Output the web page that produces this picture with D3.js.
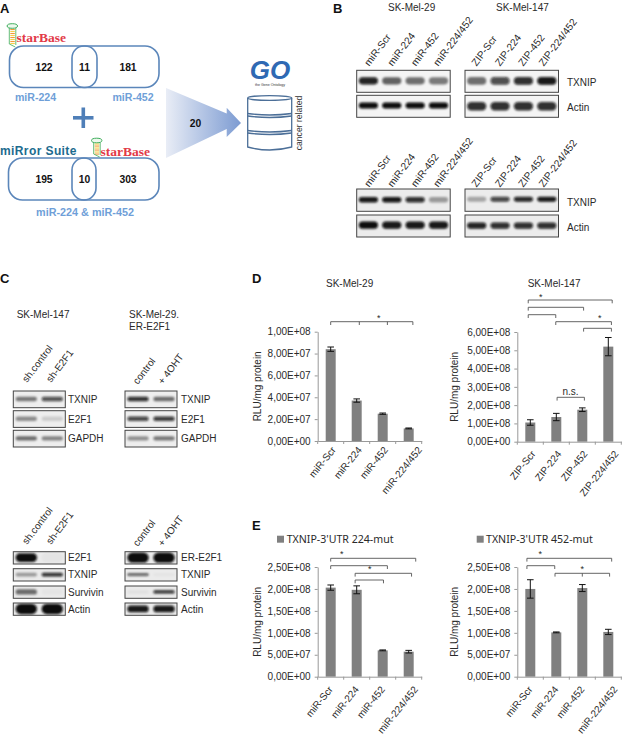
<!DOCTYPE html>
<html><head><meta charset="utf-8">
<script src="https://cdnjs.cloudflare.com/ajax/libs/d3/7.8.5/d3.min.js"></script>
<style>html,body{margin:0;padding:0;background:#fff}svg{display:block}text{font-family:"Liberation Sans",Arial,sans-serif;fill:#2a2a2a}</style>
</head><body><div id="c"></div>
<script>
// ---------- DATA ----------
const mirCategories = ["miR-Scr","miR-224","miR-452","miR-224/452"];
const zipCategories = ["ZIP-Scr","ZIP-224","ZIP-452","ZIP-224/452"];

const d29Values = [8.4e7,3.7e7,2.5e7,1.15e7];
const d29Errors = [0.2e7,0.15e7,0.06e7,0.04e7];
const d29Ticks  = [0,2e7,4e7,6e7,8e7,1e8];

const d147Values = [1.05e8,1.35e8,1.75e8,5.2e8];
const d147Errors = [0.15e8,0.2e8,0.1e8,0.5e8];
const d147Ticks  = [0,1e8,2e8,3e8,4e8,5e8,6e8];

const e224Values = [2.03e8,1.98e8,0.6e8,0.57e8];
const e224Errors = [0.06e8,0.09e8,0.01e8,0.03e8];
const e452Values = [2.0e8,1.01e8,2.02e8,1.02e8];
const e452Errors = [0.21e8,0.01e8,0.08e8,0.06e8];
const eTicks     = [0,5e7,1e8,1.5e8,2e8,2.5e8];

const vennTop = ["122","11","181"];
const vennBottom = ["195","10","303"];

const blotLanes4mir = mirCategories;
const blotLanes4zip = zipCategories;
const shLanes = ["sh.control","sh-E2F1"];
const ohtLanes = ["control","+ 4OHT"];

// band darkness, read by eye
const bTopMirTxnip  = [.9,.6,.55,.5];
const bTopMirActin  = [1,1,1,1];
const bTopZipTxnip  = [.55,.72,.85,.95];
const bTopZipActin  = [.85,.85,.85,.85];
const bLowMirTxnip  = [.95,.95,.85,.35];
const bLowMirActin  = [1,.95,.95,.95];
const bLowZipTxnip  = [.3,.75,.88,.95];
const bLowZipActin  = [.9,.85,.85,.85];
const cTopShTxnip   = [.5,.7];
const cTopShE2f1    = [.42,.14];
const cTopShGapdh   = [.55,.45];
const cTopOhtTxnip  = [.85,.55];
const cTopOhtE2f1   = [.75,.8];
const cTopOhtGapdh  = [.4,.5];
const cLowShE2f1    = [1,.03];
const cLowShTxnip   = [.35,.85];
const cLowShSurv    = [.55,.03];
const cLowShActin   = [1,1];
const cLowOhtE2f1   = [1,1];
const cLowOhtTxnip  = [.65,.03];
const cLowOhtSurv   = [.05,.85];
const cLowOhtActin  = [.95,.95];

// ---------- SETUP ----------
const W=622,H=735;
const svg=d3.select("#c").append("svg").attr("width",W).attr("height",H).attr("viewBox",`0 0 ${W} ${H}`);
svg.append("rect").attr("width",W).attr("height",H).attr("fill","#fff");
const defs=svg.append("defs");
defs.append("filter").attr("id","blur").attr("x","-30%").attr("y","-100%").attr("width","160%").attr("height","300%")
  .append("feGaussianBlur").attr("stdDeviation",0.9);
const grad=defs.append("linearGradient").attr("id","arrowGrad");
grad.append("stop").attr("offset","0").attr("stop-color","#e9edf6");
grad.append("stop").attr("offset","1").attr("stop-color","#7c9bd2");

function T(g,x,y,s,o={}){
  const t=g.append("text").attr("x",x).attr("y",y).attr("dy",".35em").text(s)
    .attr("font-size",o.size||10).attr("text-anchor",o.anchor||"start");
  if(o.weight)t.attr("font-weight",o.weight);
  if(o.fill)t.style("fill",o.fill);
  if(o.family)t.style("font-family",o.family);
  if(o.style)t.attr("font-style",o.style);
  if(o.ls)t.attr("letter-spacing",o.ls);
  if(o.rot!==undefined)t.attr("transform",`rotate(${o.rot} ${x} ${y})`);
  return t;
}
const letters=[["A",0,8],["B",333,8],["C",0,278],["D",252,278],["E",252,525]];
letters.forEach(l=>T(svg,l[1],l[2],l[0],{size:13,weight:"bold",fill:"#111"}));

// ---------- PANEL A ----------
const A=svg.append("g");
const blue="#5b86ba",lblue="#6f9fd8";
function venn(x0,x1,y0,y1,ix0,ix1,vals,cy){
  A.append("rect").attr("x",x0).attr("y",y0).attr("width",x1-x0).attr("height",y1-y0).attr("rx",14)
    .attr("fill","none").attr("stroke",blue).attr("stroke-width",1.6);
  A.append("rect").attr("x",ix0).attr("y",y0).attr("width",ix1-ix0).attr("height",y1-y0).attr("rx",12)
    .attr("fill","none").attr("stroke",blue).attr("stroke-width",1.6);
  [44,84.5,128].forEach((x,i)=>T(A,x,cy,vals[i],{size:10.3,weight:"bold",anchor:"middle",fill:"#111"}));
}
venn(9.5,159,46,87.5,72,97,vennTop,67);
venn(8.5,159,158,200,72,96,vennBottom,179.5);
T(A,35.5,97,"miR-224",{size:10.6,weight:"bold",anchor:"middle",fill:lblue});
T(A,133,97,"miR-452",{size:10.6,weight:"bold",anchor:"middle",fill:lblue});
T(A,85,212,"miR-224 & miR-452",{size:10.8,weight:"bold",anchor:"middle",fill:lblue});
A.append("rect").attr("x",73).attr("y",116).attr("width",20.5).attr("height",3.6).attr("fill","#4f7fb8");
A.append("rect").attr("x",81.5).attr("y",107.5).attr("width",3.6).attr("height",20.5).attr("fill","#4f7fb8");
A.append("path").attr("d","M166,88L226.7,113.5L226.7,107.7L241,123L226.7,137L226.7,129L166,158Z").attr("fill","url(#arrowGrad)");
T(A,195.5,123,"20",{size:10.3,weight:"bold",anchor:"middle",fill:"#111"});
function star(x,y){T(A,x,y,"starBase",{size:13.5,weight:"bold",fill:"#e23a48",family:"'Liberation Serif',serif"});}
star(16.5,37);star(100.5,151);
function hairpin(x,top,bot){
  for(let y=top+4;y<bot-2;y+=2){A.append("rect").attr("x",x+1).attr("y",y).attr("width",4.5).attr("height",1.1).attr("fill",y%4<2?"#f29a3a":"#f6d04a");}
  A.append("path").attr("d",`M${x},${top+3}V${bot-3}L${x+6},${bot}M${x+6.5},${top+3}V${bot-2}`).attr("fill","none").attr("stroke","#55b56a").attr("stroke-width",.9);
  A.append("ellipse").attr("cx",x+3).attr("cy",top+1).attr("rx",5.2).attr("ry",2.3).attr("fill","#eef8ee").attr("stroke","#3fae5c").attr("stroke-width",1);
}
hairpin(9.3,25,47);hairpin(93.7,139.5,157);
T(A,0,151,"miRror Suite",{size:12,weight:"bold",fill:"#1d6b8e",ls:.4});
T(A,270,70,"GO",{size:26,weight:"bold",style:"italic",anchor:"middle",fill:"#2f69b3"});
T(A,270,84.5,"the Gene Ontology",{size:3.6,anchor:"middle",fill:"#333"});
const cyl=A.append("g").attr("fill","none").attr("stroke","#4c6f98").attr("stroke-width",1.3);
cyl.append("path").attr("d","M247.7,98V147Q269.7,153 291.7,147V98");
cyl.append("ellipse").attr("cx",269.7).attr("cy",98).attr("rx",22).attr("ry",2.4);
[114.5,117,131.5,134].forEach(y=>cyl.append("path").attr("d",`M247.7,${y-1}Q269.7,${y+2} 291.7,${y-1}`));
T(A,299,123,"cancer related",{size:8.6,anchor:"middle",rot:-90,fill:"#333"});

// ---------- BLOTS ----------
function blot(x,y,w,h,levels,o={}){
  const lanes=o.lanes||levels.map((_,i)=>i);
  const sc=d3.scaleBand().domain(lanes).range([0,w]);
  const s=svg.append("svg").attr("x",x).attr("y",y).attr("width",w).attr("height",h);
  s.append("rect").attr("width",w).attr("height",h).attr("fill",o.bg||"#f4f4f4");
  const bh=h*(o.thick||.32);
  s.append("g").attr("filter","url(#blur)").selectAll("rect").data(levels).join("rect")
    .attr("x",(d,i)=>sc(lanes[i])+sc.bandwidth()*.09).attr("width",sc.bandwidth()*.82)
    .attr("y",h*(o.cy||.48)-bh/2).attr("height",bh).attr("rx",bh/2)
    .attr("fill","#0a0a0a").attr("opacity",d=>d);
  svg.append("rect").attr("x",x).attr("y",y).attr("width",w).attr("height",h).attr("fill","none").attr("stroke","#444").attr("stroke-width",1);
}
function laneLabels(x,w,base,cats,off,fs){
  const sc=d3.scaleBand().domain(cats).range([x,x+w]);
  cats.forEach((c,i)=>T(svg,sc(c)+sc.bandwidth()/2+(off[i]||0),base,c,{size:fs||10.2,rot:-53}));
}
// Panel B
const bL=356.7,bR=465,bW=93.5;
T(svg,388,7.5,"SK-Mel-29");T(svg,496,7.5,"SK-Mel-147");
laneLabels(bL,bW,64.5,blotLanes4mir,[-2,-2,-2,-3]);
laneLabels(bR,bW,64.5,blotLanes4zip,[-3,-3,-3,-6]);
laneLabels(bL,bW,185.5,blotLanes4mir,[-2,-2,-2,-3]);
laneLabels(bR,bW,185.5,blotLanes4zip,[-3,-3,-3,-6]);
blot(bL,70.3,bW,22,bTopMirTxnip,{thick:.32});
blot(bL,95.3,bW,22,bTopMirActin,{thick:.27,cy:.46});
blot(bR,70.3,bW,22,bTopZipTxnip,{thick:.36});
blot(bR,95.3,bW,22,bTopZipActin,{thick:.38,cy:.5});
blot(bL,189,bW,22.3,bLowMirTxnip,{thick:.25,bg:"#ececec",cy:.48});
blot(bL,215,bW,22,bLowMirActin,{thick:.34,bg:"#ececec",cy:.46});
blot(bR,189,bW,22.3,bLowZipTxnip,{thick:.22,bg:"#ececec",cy:.46});
blot(bR,215,bW,22,bLowZipActin,{thick:.28,bg:"#ececec",cy:.48});
[[82,"TXNIP"],[107,"Actin"],[202,"TXNIP"],[227,"Actin"]].forEach(d=>T(svg,567,d[0],d[1]));

// Panel C
const cL=13.3,cR=125,cW=52;
T(svg,16.7,314,"SK-Mel-147");T(svg,129,314,"SK-Mel-29.");T(svg,129,326,"ER-E2F1");
laneLabels(cL,cW,381,shLanes,[-2,-4],10);
laneLabels(cR,cW,383,ohtLanes,[-3,-4],10);
laneLabels(cL,cW,543,shLanes,[-2,-4],10);
laneLabels(cR,cW,545,ohtLanes,[-3,-4],10);
const cTopY=[391,410.7,430.3], cTopN=["TXNIP","E2F1","GAPDH"];
[cTopShTxnip,cTopShE2f1,cTopShGapdh].forEach((l,i)=>blot(cL,cTopY[i],cW,16.7,l,{thick:.26,bg:"#eeeeee"}));
[cTopOhtTxnip,cTopOhtE2f1,cTopOhtGapdh].forEach((l,i)=>blot(cR,cTopY[i],cW,16.7,l,{thick:.26,bg:"#eeeeee"}));
cTopN.forEach((n,i)=>{T(svg,68,cTopY[i]+8.3,n);T(svg,181,cTopY[i]+8.3,n);});
const cLowY=[551.7,568.7,586,603];
const cLowNL=["E2F1","TXNIP","Survivin","Actin"],cLowNR=["ER-E2F1","TXNIP","Survivin","Actin"];
const thickL=[.7,.3,.42,.85],thickR=[.85,.22,.26,.55];
[cLowShE2f1,cLowShTxnip,cLowShSurv,cLowShActin].forEach((l,i)=>blot(cL,cLowY[i],cW,12.3,l,{thick:thickL[i],bg:"#ebebeb"}));
[cLowOhtE2f1,cLowOhtTxnip,cLowOhtSurv,cLowOhtActin].forEach((l,i)=>blot(cR,cLowY[i],cW,12.3,l,{thick:thickR[i],bg:"#ebebeb"}));
cLowY.forEach((y,i)=>{T(svg,68,y+6,cLowNL[i]);T(svg,181,y+6,cLowNR[i]);});

// ---------- BAR CHARTS ----------
const fmt=v=>{const m=v.toExponential(2).split("e");const ex=+m[1];return m[0].replace(".",",")+"E+"+String(ex).padStart(2,"0");};
function barChart(o){
  const g=svg.append("g");
  const x=d3.scaleBand().domain(o.cats).range([o.x,o.x+104]);
  const y=d3.scaleLinear().domain([0,d3.max(o.ticks)]).range([o.bottom,o.top]);
  const bw=10;
  g.selectAll(".bar").data(o.values).join("rect").attr("class","bar")
    .attr("x",(d,i)=>x(o.cats[i])+x.bandwidth()/2-bw/2).attr("width",bw)
    .attr("y",d=>y(d)).attr("height",d=>y(0)-y(d)).attr("fill","#808080");
  // axes
  const ya=g.append("g").attr("transform",`translate(${o.x},0)`)
    .call(d3.axisLeft(y).tickValues(o.ticks).tickFormat(fmt).tickSize(3).tickSizeOuter(0).tickPadding(4));
  ya.selectAll("path,line").attr("stroke","#999");
  ya.selectAll("text").attr("font-size",10);
  ya.attr("font-family",null);
  const xa=g.append("g").attr("transform",`translate(0,${o.bottom})`)
    .call(d3.axisBottom(x).tickSize(0).tickSizeOuter(0).tickFormat(""));
  xa.attr("font-family",null);
  xa.selectAll("path").attr("stroke","#999");
  d3.range(0,5).forEach(i=>g.append("line").attr("x1",o.x+x.step()*i).attr("x2",o.x+x.step()*i)
    .attr("y1",o.bottom).attr("y2",o.bottom+3).attr("stroke","#999"));
  // error bars
  const cx=i=>x(o.cats[i])+x.bandwidth()/2;
  const eb=g.append("g").attr("stroke","#111").attr("stroke-width",1);
  o.values.forEach((v,i)=>{
    const e=o.errors[i],hi=y(v+e),lo=y(v-e);
    eb.append("line").attr("x1",cx(i)).attr("x2",cx(i)).attr("y1",hi).attr("y2",lo);
    eb.append("line").attr("x1",cx(i)-3.3).attr("x2",cx(i)+3.3).attr("y1",hi).attr("y2",hi);
    eb.append("line").attr("x1",cx(i)-3.3).attr("x2",cx(i)+3.3).attr("y1",lo).attr("y2",lo);
  });
  // rotated category labels
  o.cats.forEach((c,i)=>T(g,cx(i)+(i==3?o.shiftLong:o.shift),o.labelY,c,{size:10,anchor:"end",rot:-51}));
  // y title
  T(g,o.titleX,(o.top+o.bottom)/2+ (o.titleDy||0),"RLU/mg protein",{size:10,anchor:"middle",rot:-90});
  // brackets, x in category units, y in pixels
  const bx=u=>o.x+x.step()*(u+.5);
  const br=g.append("g").attr("fill","none").attr("stroke","#555").attr("stroke-width",.9);
  (o.brackets||[]).forEach(b=>{
    const d=[b.from,...(b.mid||[]),b.to];
    br.append("line").attr("x1",bx(b.from)).attr("x2",bx(b.to)).attr("y1",b.y).attr("y2",b.y);
    d.forEach(u=>br.append("line").attr("x1",bx(u)).attr("x2",bx(u)).attr("y1",b.y).attr("y2",b.y+3.3));
  });
  (o.marks||[]).forEach(m=>T(g,bx(m.u),m.y,m.s,{size:m.s=="*"?9:10,anchor:"middle"}));
}
barChart({cats:mirCategories,values:d29Values,errors:d29Errors,ticks:d29Ticks,x:317.7,top:331.7,bottom:441,
  labelY:448,shift:3,shiftLong:11,titleX:257.5,
  brackets:[{from:0,to:3.16,mid:[1.1,2.18],y:321.7}],marks:[{u:1.85,y:317.5,s:"*"}]});
barChart({cats:zipCategories,values:d147Values,errors:d147Errors,ticks:d147Ticks,x:517.3,top:332,bottom:441.7,
  labelY:452,shift:3,shiftLong:8,titleX:455,
  brackets:[{from:-.08,to:3.15,y:300},{from:-.08,to:2.05,y:307.3},{from:-.08,to:.98,y:314.7},
    {from:.98,to:3.12,y:321.7},{from:2.05,to:3.12,y:328.3},{from:1.03,to:2.08,y:397.3}],
  marks:[{u:.4,y:296.5,s:"*"},{u:2.67,y:317.5,s:"*"},{u:1.55,y:391,s:"n.s."}]});
barChart({cats:mirCategories,values:e224Values,errors:e224Errors,ticks:eTicks,x:317.7,top:567,bottom:676.7,
  labelY:687.5,shift:0,shiftLong:7,titleX:257.5,
  brackets:[{from:0,to:3.27,y:558.3},{from:0,to:2.18,y:565.7},{from:.94,to:3.11,y:573.3},{from:.94,to:2.03,y:580}],
  marks:[{u:.43,y:554,s:"*"},{u:1.5,y:569,s:"*"}]});
barChart({cats:mirCategories,values:e452Values,errors:e452Errors,ticks:eTicks,x:517.3,top:567,bottom:676.7,
  labelY:687.5,shift:0,shiftLong:7,titleX:455,
  brackets:[{from:-.13,to:3.13,y:558.3},{from:-.13,to:.94,y:565.7},{from:.95,to:3.05,mid:[2],y:573.3}],
  marks:[{u:.38,y:554,s:"*"},{u:2,y:569,s:"*"}]});
T(svg,326,283,"SK-Mel-29");T(svg,527.7,283,"SK-Mel-147");

// legends
[[277,286.7,"TXNIP-3'UTR 224-mut"],[476.7,486,"TXNIP-3'UTR 452-mut"]].forEach(l=>{
  svg.append("rect").attr("x",l[0]).attr("y",535.7).attr("width",7).attr("height",7).attr("fill","#808080");
  T(svg,l[1],539.5,l[2],{size:10.6,family:"'Noto Sans',sans-serif"});
});
</script></body></html>
